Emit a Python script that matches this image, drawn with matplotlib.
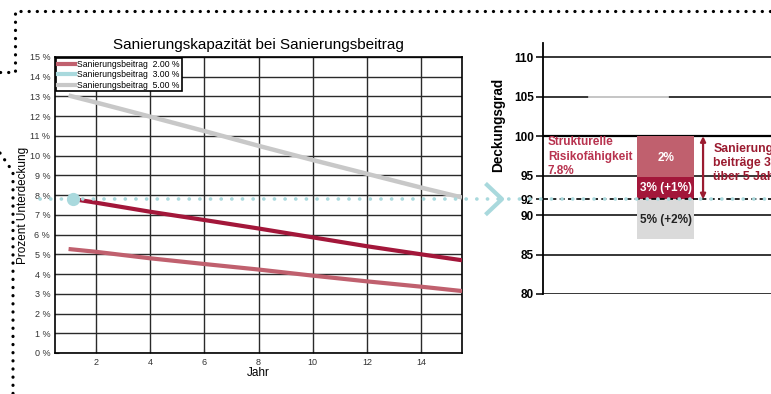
import matplotlib.pyplot as plt
import matplotlib.transforms as mtransforms
from matplotlib.lines import Line2D

plt.rcParams['font.family'] = ['Liberation Sans', 'DejaVu Sans']

# Data - left chart (Jahr vs Prozent Unterdeckung)
jahre = [1, 2, 4, 6, 8, 10, 12, 14, 15.5]
unterdeckung_gray = [13.05, 12.7, 11.98, 11.25, 10.5, 9.78, 9.08, 8.38, 7.88]
jahre_dark = [1.4, 2, 4, 6, 8, 10, 12, 14, 15.5]
unterdeckung_dark = [7.75, 7.62, 7.16, 6.74, 6.31, 5.86, 5.41, 5.0, 4.7]
unterdeckung_pink = [5.27, 5.13, 4.8, 4.51, 4.23, 3.92, 3.63, 3.36, 3.14]
start_jahr = 1.16
start_unterdeckung = 7.8
legend_labels = ['Sanierungsbeitrag  2.00 %', 'Sanierungsbeitrag  3.00 %', 'Sanierungsbeitrag  5.00 %']

# Data - right chart (Deckungsgrad)
bar_labels = ['2%', '3% (+1%)', '5% (+2%)']
bar_bottoms = [94.8, 92, 87]
bar_tops = [100, 94.8, 92]
deckungsgrad_ticks = [80, 85, 90, 92, 95, 100, 105, 110]
ziel_deckungsgrad = 92

cyan = '#a9d9dd'
crimson = '#a3173a'
pink = '#c0606e'
lgray = '#c8c8c8'

fig = plt.figure(figsize=(7.71, 3.94), dpi=100)
W, H = 771, 394

# ---------- left chart ----------
ax1 = fig.add_axes([55 / W, 1 - 353 / H, 407 / W, 296 / H])
ax1.plot(jahre, unterdeckung_gray, color=lgray, lw=3.2, solid_capstyle='butt', zorder=3)
ax1.plot(jahre_dark, unterdeckung_dark, color=crimson, lw=3.0, solid_capstyle='butt', zorder=3)
ax1.plot(jahre, unterdeckung_pink, color=pink, lw=3.0, solid_capstyle='butt', zorder=3)
ax1.set_xlim(0.5, 15.5)
ax1.set_ylim(0, 15)
ax1.set_xticks(range(2, 15, 2))
ax1.set_yticks(range(0, 16))
ax1.set_yticklabels([f'{v} %' for v in range(0, 16)])
ax1.tick_params(labelsize=6.5, colors='#333333', length=3, direction='in')
ax1.grid(True, color='#2a2a2a', lw=1.0)
for s in ax1.spines.values():
    s.set_linewidth(1.2)
ax1.set_title('Sanierungskapazität bei Sanierungsbeitrag', fontsize=11, pad=6)
ax1.set_xlabel('Jahr', fontsize=8.5, labelpad=0)
ax1.set_ylabel('Prozent Unterdeckung', fontsize=8.5)
ax1.yaxis.set_label_coords(-0.063, 0.5)

handles = [Line2D([], [], color=pink, lw=3),
           Line2D([], [], color=cyan, lw=3),
           Line2D([], [], color=lgray, lw=3)]
leg = ax1.legend(handles, legend_labels, loc='upper left', fontsize=6.2, frameon=True,
                 fancybox=False, edgecolor='black', borderpad=0.2, handlelength=2.0,
                 handletextpad=0.25, labelspacing=0.15, borderaxespad=0.15)
leg.get_frame().set_linewidth(1.2)
leg.get_frame().set_alpha(1)

# ---------- right chart ----------
ax2 = fig.add_axes([543 / W, 1 - 294 / H, 0.4, 251 / H])
ax2.set_xlim(0, 1)
ax2.set_ylim(80, 111.8)
ax2.patch.set_visible(False)
for t in deckungsgrad_ticks:
    if t == ziel_deckungsgrad:
        continue
    ax2.axhline(t, color='black', lw=1.6 if t == 100 else 1.1, zorder=1)
ax2.plot([0.149, 0.406], [105, 105], color='#e2e2e2', lw=1.2, zorder=1.5)

bar_colors = [pink, crimson, '#dadada']
text_colors = ['white', 'white', '#222222']
label_y = [97.2, 93.4, 89.4]
heights = [t - b for t, b in zip(bar_tops, bar_bottoms)]
ax2.bar([0.3975] * 3, heights, bottom=bar_bottoms, width=0.185, color=bar_colors, zorder=2)
for lab, yc, c in zip(bar_labels, label_y, text_colors):
    ax2.text(0.3975, yc, lab, ha='center', va='center', color=c,
             fontsize=8.5, fontweight='bold', zorder=3)

ax2.axhline(ziel_deckungsgrad, color='black', lw=1.2, ls=(0, (3, 2)), zorder=2)

ax2.annotate('', xy=(0.519, ziel_deckungsgrad), xytext=(0.519, 100),
             arrowprops=dict(arrowstyle='<|-|>,head_length=0.3,head_width=0.15',
                             color='#9b1b30', lw=1.6, shrinkA=0, shrinkB=0), zorder=4)

ax2.text(0.016, 97.4, 'Strukturelle\nRisikofähigkeit\n7.8%', color='#b8334f',
         fontsize=8.5, fontweight='bold', va='center', ha='left', linespacing=1.25)
ax2.text(0.552, 96.6, 'Sanierungs-\nbeiträge 3%\nüber 5 Jahre', color='#9b1b30',
         fontsize=8.8, fontweight='bold', va='center', ha='left', linespacing=1.2)

ax2.set_xticks([])
ax2.set_yticks(deckungsgrad_ticks)
ax2.tick_params(axis='y', labelsize=8.5, length=5, width=1.1, pad=1.5)
for lab in ax2.get_yticklabels():
    lab.set_fontweight('bold')
for s in ['top', 'right', 'bottom']:
    ax2.spines[s].set_visible(False)
ax2.spines['left'].set_linewidth(1.3)

fig.text(498 / W, 1 - 125 / H, 'Deckungsgrad', rotation=90, fontsize=9.8,
         fontweight='bold', ha='center', va='center')

# ---------- connecting cyan line, marker and arrow ----------
tr = mtransforms.blended_transform_factory(fig.transFigure, ax1.transData)
fig.add_artist(Line2D([40 / W, 1.0], [start_unterdeckung, start_unterdeckung], transform=tr,
                      color=cyan, lw=2.6, ls=(0, (0.05, 2.9)), dash_capstyle='round', zorder=10))
fig.add_artist(Line2D([487 / W, 502 / W, 487 / W],
                      [start_unterdeckung + 0.72, start_unterdeckung, start_unterdeckung - 0.72],
                      transform=tr, color=cyan, lw=3.0, zorder=10))
ax1.plot([start_jahr], [start_unterdeckung], 'o', color=cyan, ms=8.5, zorder=11, clip_on=False)

# ---------- dotted frame ----------
def dotted(xs, ys):
    fig.add_artist(Line2D([x / W for x in xs], [1 - y / H for y in ys],
                          transform=fig.transFigure, color='black', lw=2.3,
                          ls=(0, (0.05, 2.5)), dash_capstyle='round', zorder=12))

dotted([0, 15, 15, 771], [72, 72, 11, 11])
dotted([0, 13, 13], [153, 172, 394])

fig.savefig('out.png', dpi=100)
